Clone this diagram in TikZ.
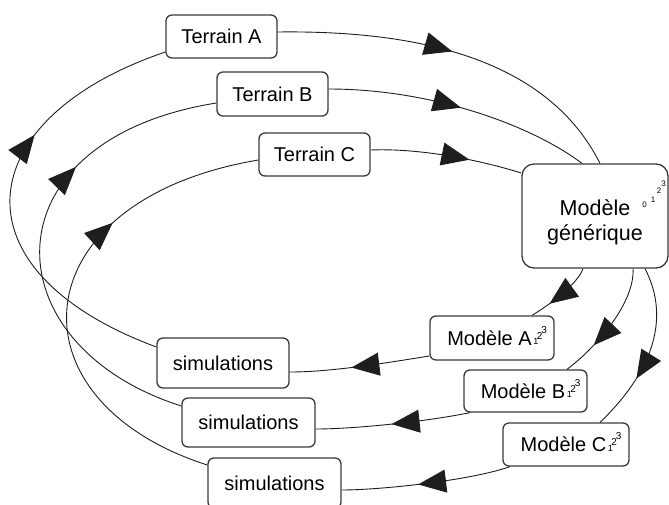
\documentclass[tikz,border=0pt]{standalone}
\usepackage{fontspec}
\setmainfont{Liberation Sans}
\usetikzlibrary{arrows.meta,decorations.markings}

% a small digit placed at a horizontal offset and a height above the baseline
\newcommand{\digitat}[4]{\rlap{\hspace{#1}\smash{\raisebox{#2}{\fontsize{#3}{#3}\selectfont #4}}}}
% rising index digits after a model name
\newcommand{\modelidx}{\digitat{1.5pt}{0.5pt}{9pt}{1}\digitat{5pt}{6pt}{10pt}{2}\digitat{9.5pt}{12pt}{10pt}{3}\hspace{5pt}}
\newcommand{\genidx}{\digitat{12pt}{8pt}{8pt}{0}\digitat{20.5pt}{13pt}{8pt}{1}\digitat{26.5pt}{22pt}{8pt}{2}\digitat{31pt}{29pt}{8pt}{3}}

\definecolor{boxline}{HTML}{3A3A3A}
\definecolor{wire}{HTML}{1E1E1E}

\begin{document}
\begin{tikzpicture}[x=1pt,y=-1pt,
  box/.style={draw=boxline, line width=1.3pt, rounded corners=6pt, inner sep=0pt,
    align=center, font=\fontsize{20}{24}\selectfont},
  wirestyle/.style={draw=wire, line width=0.9pt},
  midtip/.style={postaction={decorate},
    decoration={markings, mark=at position #1 with {\arrow{Triangle[length=28pt,width=23pt]}}}}
]
\useasboundingbox (0,0) rectangle (669,504);
\clip (0,0) rectangle (669,504);

% field data
\node[box, minimum width=111pt, minimum height=43pt] (ta) at (221.5,36.5) {Terrain A};
\node[box, minimum width=111pt, minimum height=44pt] (tb) at (272.5,94) {Terrain B};
\node[box, minimum width=111pt, minimum height=43pt] (tc) at (314.5,154.5) {Terrain C};

% generic model (the strut lowers the two lines a little)
\node[box, rounded corners=12pt, minimum width=146pt, minimum height=104pt,
  font=\fontsize{21.5}{25}\selectfont] (gen) at (595,216) {\rule{0pt}{28pt}Modèle\genidx\\générique};

% instantiated models
\node[box, minimum width=124pt, minimum height=44pt] (ma) at (492,338) {Modèle A\modelidx};
\node[box, minimum width=123pt, minimum height=42pt] (mb) at (525.5,391) {Modèle B\modelidx};
\node[box, minimum width=126pt, minimum height=43pt] (mc) at (566,444.5) {Modèle C\modelidx};

% simulation runs
\node[box, minimum width=132pt, minimum height=50pt] (sa) at (223,363) {simulations};
\node[box, minimum width=133pt, minimum height=49pt] (sb) at (248.5,422.5) {simulations};
\node[box, minimum width=133pt, minimum height=50pt] (sc) at (274.5,483) {simulations};

% field data feed the generic model
\draw[wirestyle, midtip=0.48] ([yshift=4.5pt]ta.east) .. controls +(153,-2) and +(-50,-99) .. ([xshift=5pt]gen.north);
\draw[wirestyle, midtip=0.5] ([yshift=5pt]tb.east) .. controls +(102,0) and +(-52,-39) .. ([xshift=-13pt]gen.north);
\draw[wirestyle, midtip=0.65] ([yshift=4.5pt]tc.east) .. controls +(50,-2) and +(-42,-13) .. ([yshift=43pt]gen.west);

% generic model gives each specific model
\draw[wirestyle, midtip=0.7] ([xshift=-12pt]gen.south) .. controls +(-5,14) and +(23,-14) .. ([xshift=40pt]ma.north);
\draw[wirestyle, midtip=0.71] ([xshift=38pt]gen.south) .. controls +(2,32) and +(33,-25) .. ([xshift=41.5pt]mb.north);
\draw[wirestyle, midtip=0.67] ([xshift=50pt]gen.south) .. controls +(27,52) and +(50,-48) .. ([xshift=34pt]mc.north);

% models run as simulations
\draw[wirestyle, midtip=0.56] ([yshift=-18pt]ma.west) .. controls +(-50,8) and +(40,0) .. ([yshift=-9pt]sa.east);
\draw[wirestyle, midtip=0.51] ([xshift=-55.5pt]mb.south) .. controls +(-50,10) and +(35,0) .. ([yshift=-6.5pt]sb.east);
\draw[wirestyle, midtip=0.55] ([xshift=-56pt]mc.south) .. controls +(-40,14) and +(38,0) .. ([yshift=-7pt]sc.east);

% simulations are compared back to the field
\draw[wirestyle, midtip=0.65] ([yshift=16pt]sa.west) .. controls +(-207,-77) and +(-195,66) .. ([yshift=-15.5pt]ta.west);
\draw[wirestyle, midtip=0.67] ([yshift=16.5pt]sb.west) .. controls +(-192,-61) and +(-232,37) .. ([yshift=-9pt]tb.west);
\draw[wirestyle, midtip=0.67] ([yshift=18pt]sc.west) .. controls +(-203,-65) and +(-238,40) .. ([yshift=-5.5pt]tc.west);
\end{tikzpicture}
\end{document}
